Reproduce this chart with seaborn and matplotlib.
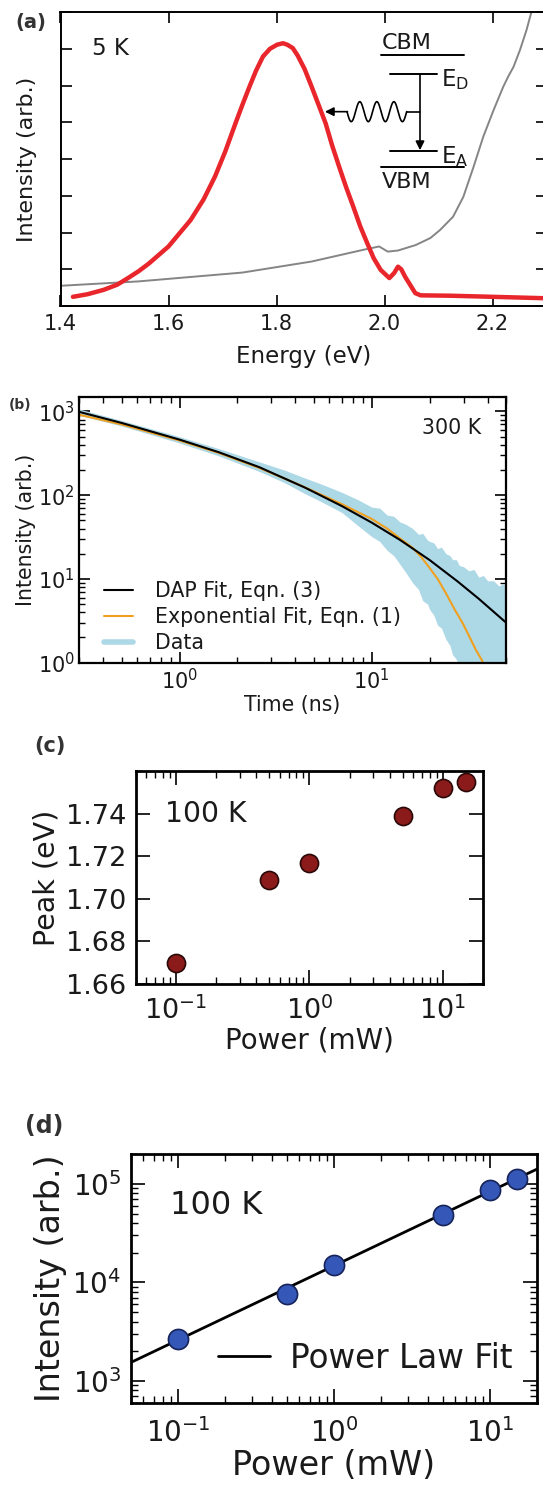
import matplotlib
matplotlib.use("Agg")
import matplotlib.pyplot as plt
from matplotlib.lines import Line2D
from matplotlib.ticker import LogLocator, NullFormatter
import numpy as np
import seaborn as sns

# ---------------------------------------------------------------
# (a) 5 K photoluminescence (red) and absorption (grey)
# ---------------------------------------------------------------
pl_energy = [1.423, 1.450, 1.480, 1.505, 1.525, 1.545, 1.564, 1.600, 1.641,
             1.665, 1.686, 1.705, 1.724, 1.737, 1.750, 1.762, 1.775, 1.788,
             1.801, 1.812, 1.820, 1.830, 1.839, 1.852, 1.865, 1.878, 1.891,
             1.903, 1.916, 1.929, 1.942, 1.955, 1.968, 1.980, 1.993, 2.009,
             2.018, 2.025, 2.031, 2.038, 2.057, 2.067, 2.122, 2.200, 2.300]
pl_intensity = [0.25, 0.32, 0.44, 0.58, 0.76, 0.95, 1.16, 1.62, 2.34,
                2.90, 3.52, 4.20, 4.97, 5.48, 5.97, 6.40, 6.79, 7.00,
                7.11, 7.15, 7.11, 7.02, 6.82, 6.45, 5.97, 5.47, 4.97,
                4.37, 3.79, 3.23, 2.71, 2.17, 1.71, 1.30, 0.98, 0.76,
                0.90, 1.07, 1.00, 0.80, 0.35, 0.29, 0.28, 0.25, 0.21]
abs_energy = [1.400, 1.545, 1.737, 1.865, 1.961, 1.990, 2.006, 2.025, 2.058,
              2.085, 2.103, 2.127, 2.146, 2.165, 2.183, 2.202, 2.220, 2.229,
              2.239, 2.251, 2.263, 2.273, 2.280]
abs_intensity = [0.55, 0.67, 0.91, 1.21, 1.53, 1.62, 1.48, 1.51, 1.66,
                 1.85, 2.07, 2.43, 2.97, 3.79, 4.61, 5.33, 5.97, 6.24,
                 6.51, 6.97, 7.51, 8.05, 8.40]
energy_ticks = [1.4, 1.6, 1.8, 2.0, 2.2]

# ---------------------------------------------------------------
# (b) 300 K decay
# ---------------------------------------------------------------
dap_time = [0.3, 0.5, 1.0, 1.6, 2.6, 4.5, 7.0, 10.0, 14.0, 20.0, 28.0, 36.0, 50.0]
dap_fit = [990, 729, 461, 326, 216, 123, 74, 47, 29.3, 16.8, 9.3, 5.8, 3.0]
exp_time = [0.3, 0.5, 1.0, 1.6, 2.6, 4.5, 7.0, 10.0, 12.0, 14.0, 16.3, 18.0,
            20.0, 22.0, 24.3, 27.0, 29.7, 32.0, 34.8, 37.7, 40.0]
exp_fit = [915, 700, 450, 320, 212, 124, 78, 52, 40, 30.5, 23.5, 18.5,
           13.5, 10.0, 6.75, 4.3, 2.96, 2.1, 1.42, 1.03, 0.75]
data_time = [0.3, 0.5, 1.0, 1.6, 2.6, 3.5, 4.5, 5.5, 7.0, 8.5, 10.0, 11.0,
             12.0, 13.0, 14.0, 15.0, 16.3, 17.5, 18.4, 19.5, 20.0, 21.0,
             22.0, 23.0, 24.3, 25.5, 26.3, 27.5, 28.5, 30.0, 32.0, 34.0,
             36.0, 38.0, 40.0, 43.0, 46.0, 48.0, 50.0]
data_low = [900, 670, 420, 295, 192, 142, 104, 83, 62, 43, 32, 28,
            22, 19, 15, 12, 9.0, 7.5, 5.5, 5.0, 4.3, 3.7,
            2.8, 2.6, 1.9, 1.6, 1.25, 1.1, 0.9, 0.8, 0.5, 0.5,
            0.5, 0.5, 0.5, 0.5, 0.5, 0.5, 0.5]
data_high = [1070, 780, 500, 360, 250, 200, 160, 135, 108, 88, 72, 70,
             58, 56, 48, 45, 40, 34, 35, 29, 28, 27,
             23, 24, 20, 19, 17, 17, 14.5, 14, 12.5, 13,
             10.5, 11, 9.5, 9.5, 8.2, 8.8, 8.0]

# ---------------------------------------------------------------
# (c), (d) 100 K power dependence
# ---------------------------------------------------------------
power = [0.1, 0.5, 1.0, 5.0, 10.0, 15.0]
peak_energy = [1.670, 1.709, 1.717, 1.739, 1.752, 1.755]
peak_ticks = [1.66, 1.68, 1.70, 1.72, 1.74]
power_intensity = [2650, 7650, 14900, 47900, 87000, 113000]
fit_power = [0.05, 20.0]
fit_intensity = [1540, 141000]

W, H = 543, 1490
INK = "#1a1a1a"

sns.set_theme(style="ticks")
plt.rcParams.update({
    "font.family": ["DejaVu Sans"],
    "mathtext.default": "regular",
    "axes.unicode_minus": False,
    "text.color": INK,
    "axes.labelcolor": INK,
    "axes.edgecolor": "black",
    "xtick.color": "black",
    "ytick.color": "black",
    "xtick.labelcolor": INK,
    "ytick.labelcolor": INK,
    "xtick.direction": "in",
    "ytick.direction": "in",
    "xtick.top": True,
    "ytick.right": True,
})

fig = plt.figure(figsize=(W / 100, H / 100), dpi=100)


def px_axes(left, top, right, bottom):
    return fig.add_axes([left / W, 1 - bottom / H, (right - left) / W, (bottom - top) / H])


def log_minor(axis):
    axis.set_minor_locator(LogLocator(base=10, subs=np.arange(2, 10), numticks=50))
    axis.set_minor_formatter(NullFormatter())


def style_axes(ax, spine_w, major, minor, size, xpad, ypad):
    for sp in ax.spines.values():
        sp.set_linewidth(spine_w)
    ax.tick_params(which="major", length=major, width=1.2, labelsize=size)
    ax.tick_params(which="minor", length=minor, width=1.0,
                   bottom=True, top=True, left=True, right=True)
    ax.tick_params(axis="x", which="major", pad=xpad)
    ax.tick_params(axis="y", which="major", pad=ypad)


# ---------------------------------------------------------------- (a)
ax_a = px_axes(60.5, 12, 546.5, 306)
sns.lineplot(x=abs_energy, y=abs_intensity, color="#858585", linewidth=1.4,
             sort=False, ax=ax_a)
sns.lineplot(x=pl_energy, y=pl_intensity, color="#e8262b", linewidth=3.2,
             sort=False, ax=ax_a)
ax_a.set_xlim(1.4, 2.3)
ax_a.set_ylim(0, 8)
ax_a.set_xticks(energy_ticks)
ax_a.set_xticklabels([f"{v:.1f}" for v in energy_ticks])
ax_a.set_yticks(range(0, 9))
ax_a.set_yticklabels([])
style_axes(ax_a, 1.4, 8, 4, 15, 6, 4)
ax_a.set_xlabel("Energy (eV)", fontsize=16.5, labelpad=8)
ax_a.set_ylabel("Intensity (arb.)", fontsize=16, labelpad=13)
ax_a.text(0.064, 0.916, "5 K", transform=ax_a.transAxes, fontsize=16.5, va="top")

# energy level sketch
ta = ax_a.transAxes
ax_a.plot([0.6595, 0.8303], [0.854, 0.854], color="black", lw=1.4, transform=ta)
ax_a.plot([0.6595, 0.8303], [0.472, 0.472], color="black", lw=1.4, transform=ta)
ax_a.plot([0.678, 0.774], [0.789, 0.789], color="black", lw=1.4, transform=ta)
ax_a.plot([0.678, 0.774], [0.528, 0.528], color="black", lw=1.4, transform=ta)
ax_a.text(0.661, 0.862, "CBM", transform=ta, fontsize=16, va="bottom")
ax_a.text(0.661, 0.457, "VBM", transform=ta, fontsize=16, va="top")
ax_a.text(0.783, 0.769, r"E$_{\rm D}$", transform=ta, fontsize=16.5, va="center")
ax_a.text(0.783, 0.507, r"E$_{\rm A}$", transform=ta, fontsize=16.5, va="center")
ax_a.annotate("", xy=(0.7397, 0.530), xytext=(0.7397, 0.789), xycoords=ta,
              arrowprops=dict(arrowstyle="-|>", color="black", lw=1.2,
                              mutation_scale=13, shrinkA=0, shrinkB=0))
wave_u = np.linspace(0, 1, 200)
wave_x = 0.5895 + wave_u * (0.7123 - 0.5895)
wave_y = 0.661 - 0.034 * np.sin(2 * np.pi * 3.5 * wave_u)
ax_a.plot(wave_x, wave_y, color="black", lw=1.2, transform=ta)
ax_a.plot([0.7123, 0.7397], [0.661, 0.661], color="black", lw=1.2, transform=ta)
ax_a.annotate("", xy=(0.544, 0.661), xytext=(0.5905, 0.661), xycoords=ta,
              arrowprops=dict(arrowstyle="-|>", color="black", lw=1.2,
                              mutation_scale=13, shrinkA=0, shrinkB=0))

# ---------------------------------------------------------------- (b)
ax_b = px_axes(79, 396.7, 506.2, 662.7)
ax_b.fill_between(data_time, data_low, data_high, color="lightblue", lw=0)
sns.lineplot(x=exp_time, y=exp_fit, color="#f0a020", linewidth=1.5, ax=ax_b)
sns.lineplot(x=dap_time, y=dap_fit, color="black", linewidth=1.5, ax=ax_b)
ax_b.set_xscale("log")
ax_b.set_yscale("log")
ax_b.set_xlim(0.3, 50)
ax_b.set_ylim(1, 1500)
log_minor(ax_b.xaxis)
log_minor(ax_b.yaxis)
style_axes(ax_b, 1.6, 8, 4, 15, 4, 3)
ax_b.set_xlabel("Time (ns)", fontsize=14.8, labelpad=1)
ax_b.set_ylabel("Intensity (arb.)", fontsize=14.8, labelpad=1)
ax_b.text(0.9417, 0.92, "300 K", transform=ax_b.transAxes, fontsize=14.8,
          ha="right", va="top")
handles_b = [Line2D([], [], color="black", lw=1.5),
             Line2D([], [], color="#f0a020", lw=1.5),
             Line2D([], [], color="lightblue", lw=4)]
ax_b.legend(handles_b, ["DAP Fit, Eqn. (3)", "Exponential Fit, Eqn. (1)", "Data"],
            loc="lower left", bbox_to_anchor=(0.058, 0.035), frameon=False,
            fontsize=14.8, handlelength=1.4, handletextpad=1.1,
            labelspacing=0.3, borderpad=0, borderaxespad=0)

# ---------------------------------------------------------------- (c)
ax_c = px_axes(135.7, 771, 483, 984)
sns.scatterplot(x=power, y=peak_energy, color="#8b1a1a", edgecolor="#2a0808",
                linewidth=1.2, s=170, ax=ax_c, zorder=3)
ax_c.set_xscale("log")
ax_c.set_xlim(0.05, 20)
ax_c.set_ylim(1.66, 1.76)
ax_c.set_yticks(peak_ticks)
ax_c.set_yticklabels([f"{v:.2f}" for v in peak_ticks])
log_minor(ax_c.xaxis)
style_axes(ax_c, 2.0, 10, 5, 19.5, 9, 7)
ax_c.set_xlabel("Power (mW)", fontsize=20, labelpad=1)
ax_c.set_ylabel("Peak (eV)", fontsize=20.5, labelpad=4)
ax_c.text(0.083, 0.864, "100 K", transform=ax_c.transAxes, fontsize=20.3, va="top")

# ---------------------------------------------------------------- (d)
ax_d = px_axes(131, 1154.3, 536.7, 1402.7)
sns.lineplot(x=fit_power, y=fit_intensity, color="black", linewidth=2.0, ax=ax_d)
sns.scatterplot(x=power, y=power_intensity, color="#3557b8", edgecolor="#16245a",
                linewidth=1.2, s=210, ax=ax_d, zorder=3)
ax_d.set_xscale("log")
ax_d.set_yscale("log")
ax_d.set_xlim(0.05, 20)
ax_d.set_ylim(600, 2e5)
log_minor(ax_d.xaxis)
log_minor(ax_d.yaxis)
style_axes(ax_d, 2.0, 10, 5, 20, 11, 7)
ax_d.set_xlabel("Power (mW)", fontsize=24, labelpad=1)
ax_d.set_ylabel("Intensity (arb.)", fontsize=24, labelpad=4)
ax_d.text(0.096, 0.856, "100 K", transform=ax_d.transAxes, fontsize=23, va="top")
ax_d.legend([Line2D([], [], color="black", lw=2.0)], ["Power Law Fit"],
            loc="center right", bbox_to_anchor=(0.94, 0.179), frameon=False,
            fontsize=23.5, handlelength=1.6, handletextpad=0.6,
            borderpad=0, borderaxespad=0)

# panel letters
for letter, x, y, size in [("(a)", 15, 13, 14), ("(b)", 8.7, 398, 10),
                           ("(c)", 34.6, 736, 15), ("(d)", 25, 1114, 17)]:
    fig.text(x / W, 1 - y / H, letter, fontsize=size, fontweight="bold",
             va="top", ha="left", color="#333333")

fig.savefig("out.png", dpi=100)
